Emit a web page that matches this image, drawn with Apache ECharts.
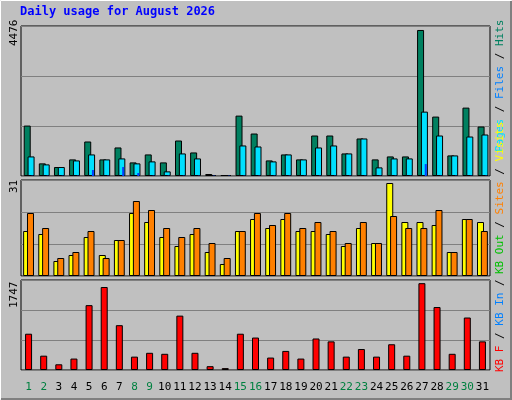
<!DOCTYPE html>
<html><head><meta charset="utf-8">
<script src="https://cdn.jsdelivr.net/npm/echarts@6/dist/echarts.min.js"></script>
<style>html,body{margin:0;padding:0;background:#c0c0c0}#c{width:512px;height:400px}</style>
</head><body><div id="c"></div>
<script>
const days = ['1','2','3','4','5','6','7','8','9','10','11','12','13','14','15','16','17','18','19','20','21','22','23','24','25','26','27','28','29','30','31'];
const weekend = ['1','2','8','9','15','16','22','23','29','30'];
const hits = [1546,387,275,509,1058,509,875,417,661,417,1088,722,61,30,1851,1302,478,661,509,1241,1241,692,1150,509,600,600,4476,1821,631,2096,1516];
const files = [600,356,275,478,661,509,539,387,448,142,692,539,30,30,936,905,448,661,509,875,936,692,1150,264,539,539,1973,1241,631,1210,1272];
const pages = [10,10,10,10,183,10,275,92,10,10,10,10,10,10,10,10,10,10,10,10,10,10,10,10,10,10,366,10,10,10,10];
const visits = [15,14,5,7,13,7,12,21,18,13,10,14,8,4,15,19,16,19,15,15,14,10,16,11,31,18,18,17,8,19,18];
const sites = [21,16,6,8,15,6,12,25,22,16,13,16,11,6,15,21,17,21,16,18,15,11,18,11,20,16,16,22,8,19,15];
const kbytes = [730,288,115,230,1305,1670,902,269,346,326,1094,346,77,38,730,653,250,384,230,634,576,269,422,269,518,288,1747,1267,326,1056,576];
const maxLabels = ['4476','31','1747'];

const chart = echarts.init(document.getElementById('c'));
const F = 'DejaVu Sans Mono';
const grids = [
  {left:21,right:22,top:26,height:150},
  {left:21,right:22,top:180,height:96},
  {left:21,right:22,top:280,height:90}
].map(g=>Object.assign(g,{show:true,backgroundColor:'#c0c0c0',borderColor:'#000',borderWidth:1}));
const maxes=[4598,32,1811];
const xAxis = grids.map((g,i)=>({type:'category',gridIndex:i,data:days,
  axisLine:{show:false},axisTick:{show:false},
  axisLabel:{show:i===2,interval:0,margin:12,fontFamily:F,fontSize:11,
    color:(v)=>weekend.includes(v)?'#008040':'#000'}}));
const yAxis = maxes.map((m,i)=>({type:'value',gridIndex:i,min:0,max:m,interval:m/3,
  axisLabel:{show:false},axisLine:{show:false},axisTick:{show:false},
  splitLine:{lineStyle:{color:'#808080',width:1}}}));
const bs = {borderColor:'#000',borderWidth:1};
chart.setOption({
  backgroundColor:'#c0c0c0',animation:false,
  grid:grids,xAxis:xAxis,yAxis:yAxis,
  series:[
    {type:'bar',xAxisIndex:0,yAxisIndex:0,data:hits,barWidth:7,barGap:'-45%',itemStyle:Object.assign({color:'#008060'},bs)},
    {type:'bar',xAxisIndex:0,yAxisIndex:0,data:files,barWidth:7,barGap:'-45%',itemStyle:Object.assign({color:'#00e0ff'},bs)},
    {type:'bar',xAxisIndex:0,yAxisIndex:0,data:pages,barWidth:2,barGap:'-45%',itemStyle:{color:'#0040ff'}},
    {type:'bar',xAxisIndex:1,yAxisIndex:1,data:visits,barWidth:7,barGap:'-45%',itemStyle:Object.assign({color:'#ffff00'},bs)},
    {type:'bar',xAxisIndex:1,yAxisIndex:1,data:sites,barWidth:7,barGap:'-45%',itemStyle:Object.assign({color:'#ff8000'},bs)},
    {type:'bar',xAxisIndex:2,yAxisIndex:2,data:kbytes,barWidth:7,itemStyle:Object.assign({color:'#ff0000'},bs)}
  ],
  graphic:[
    {type:'rect',shape:{x:0.5,y:0.5,width:511,height:399},style:{fill:'none',stroke:'#fff',lineWidth:1},z:-1},
    {type:'polyline',shape:{points:[[511,1],[511,399],[1,399]]},style:{stroke:'#808080',lineWidth:2,fill:'none'}},
    {type:'text',left:20,top:6,style:{text:'Daily usage for August 2026',fill:'#0000ff',font:'bold 12px '+F}},
    {type:'text',x:9,y:46,rotation:Math.PI/2,style:{text:maxLabels[0],fill:'#000',font:'11px '+F}},
    {type:'text',x:9,y:193,rotation:Math.PI/2,style:{text:maxLabels[1],fill:'#000',font:'11px '+F}},
    {type:'text',x:9,y:308,rotation:Math.PI/2,style:{text:maxLabels[2],fill:'#000',font:'11px '+F}},
    {type:'text',x:495,y:152,rotation:Math.PI/2,style:{rich:{a:{fill:'#00e0ff',font:'11px '+F},b:{fill:'#0080ff',font:'11px '+F},c:{fill:'#008060',font:'11px '+F},s:{fill:'#000',font:'11px '+F}},text:'{a|Pages}{s| / }{b|Files}{s| / }{c|Hits}'}},
    {type:'text',x:495,y:274,rotation:Math.PI/2,style:{rich:{a:{fill:'#00c000',font:'11px '+F},b:{fill:'#ff8000',font:'11px '+F},c:{fill:'#ffff00',font:'11px '+F},s:{fill:'#000',font:'11px '+F}},text:'{a|KB Out}{s| / }{b|Sites}{s| / }{c|Visits}'}},
    {type:'text',x:495,y:372,rotation:Math.PI/2,style:{rich:{a:{fill:'#ff0000',font:'11px '+F},b:{fill:'#0080ff',font:'11px '+F},s:{fill:'#000',font:'11px '+F}},text:'{a|KB F}{s| / }{b|KB In}{s| / }'}}
  ]
});
</script></body></html>
